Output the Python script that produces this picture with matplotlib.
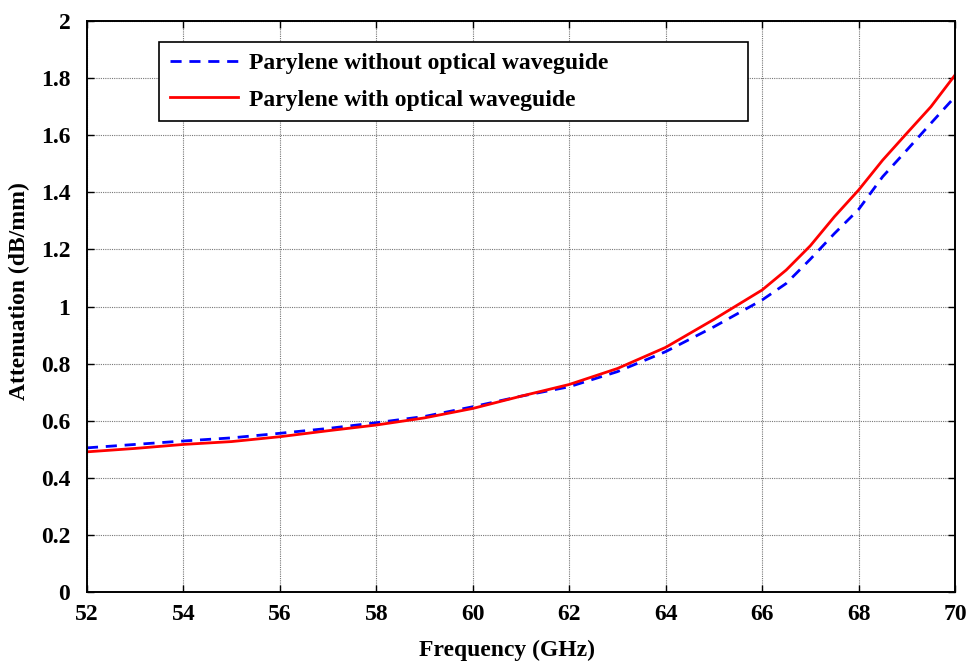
import numpy as np
import matplotlib
matplotlib.use('Agg')
import matplotlib.pyplot as plt
from matplotlib.ticker import FuncFormatter

# Frequency sample points (GHz)
freq = [52, 53, 54, 55, 56, 57, 58, 59, 60, 61, 62, 63, 64, 65, 66, 66.5,
        67, 67.5, 68, 68.5, 69, 69.5, 70]

# Attenuation (dB/mm)
att_without = [0.505, 0.517, 0.529, 0.540, 0.556, 0.573, 0.593, 0.615, 0.649,
               0.686, 0.719, 0.772, 0.842, 0.929, 1.023, 1.081,
               1.166, 1.256, 1.340, 1.455, 1.548, 1.642, 1.735]
att_with = [0.491, 0.503, 0.517, 0.527, 0.544, 0.565, 0.585, 0.610, 0.643,
            0.686, 0.727, 0.783, 0.857, 0.955, 1.058, 1.128,
            1.213, 1.315, 1.408, 1.513, 1.607, 1.700, 1.811]

label_without = 'Parylene without optical waveguide'
label_with = 'Parylene with optical waveguide'

plt.rcParams['font.family'] = ['Liberation Serif', 'DejaVu Serif']
plt.rcParams['font.weight'] = 'bold'

fig = plt.figure(figsize=(9.66, 6.61), dpi=100)
ax = fig.add_axes([0.090, 0.1044, 0.8986, 0.8636])

ax.plot(freq, att_without, color='#0000ff', linewidth=2.0,
        dashes=(4, 2.8), label=label_without)
ax.plot(freq, att_with, color='#ff0000', linewidth=2.0, label=label_with)

ax.set_xlim(52, 70)
ax.set_ylim(0, 2)
ax.set_xticks(np.arange(52, 71, 2))
ax.set_yticks(np.arange(0, 2.01, 0.2))
ax.yaxis.set_major_formatter(FuncFormatter(lambda v, p: f'{v:g}'))

ax.grid(True, color='#777777', linestyle=(0, (1, 1)), linewidth=0.8)
ax.tick_params(direction='in', length=5, width=1, top=True, right=True,
               labelsize=17)
ax.tick_params(axis='x', pad=9)
ax.tick_params(axis='y', pad=12)
for lbl in ax.get_xticklabels() + ax.get_yticklabels():
    lbl.set_fontweight('bold')
for sp in ax.spines.values():
    sp.set_linewidth(1.4)

ax.set_xlabel('Frequency (GHz)', fontsize=17, fontweight='bold')
ax.set_ylabel('Attenuation (dB/mm)', fontsize=17, fontweight='bold')
ax.xaxis.set_label_coords(0.484, -0.084)
ax.yaxis.set_label_coords(-0.066, 0.527)

leg = ax.legend(loc='upper left', bbox_to_anchor=(0.083, 0.5, 0.6786, 0.463),
                mode='expand', frameon=True, fancybox=False, handlelength=2.9,
                handletextpad=0.45, borderpad=0.45, labelspacing=0.62,
                borderaxespad=0, prop={'weight': 'bold', 'size': 17})
leg.get_frame().set_edgecolor('black')
leg.get_frame().set_linewidth(1.2)
leg.get_frame().set_alpha(1)

fig.savefig('out.png', dpi=100)
